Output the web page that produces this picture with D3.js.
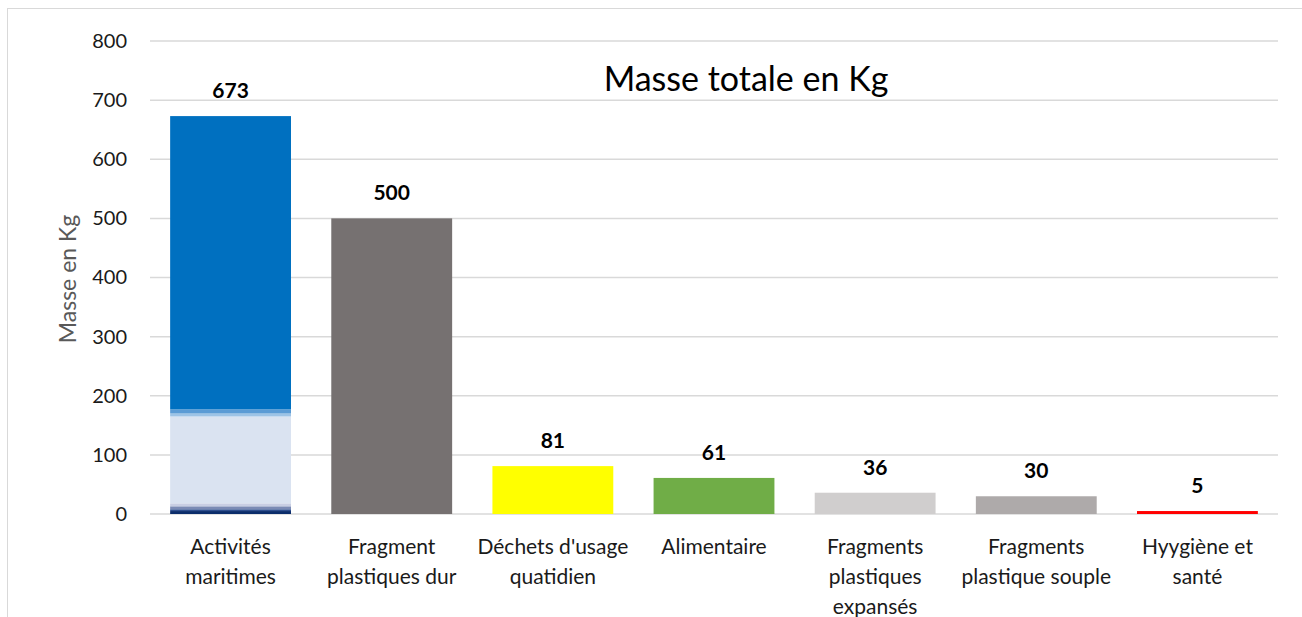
<!DOCTYPE html>
<html><head><meta charset="utf-8">
<script src="https://cdn.jsdelivr.net/npm/d3@7"></script>
<style>body{margin:0;background:#fff;}svg{display:block;font-family:Lato,"Liberation Sans",sans-serif;}</style>
</head><body>
<svg id="c" width="1302" height="617"></svg>
<script>
const categories = ["Activités maritimes","Fragment plastiques dur","Déchets d'usage quatidien","Alimentaire","Fragments plastiques expansés","Fragments plastique souple","Hyygiène et santé"];
const categoryLines = [["Activités","maritimes"],["Fragment","plastiques dur"],["Déchets d'usage","quatidien"],["Alimentaire"],["Fragments","plastiques","expansés"],["Fragments","plastique souple"],["Hyygiène et","santé"]];
const totals = [673,500,81,61,36,30,5];
const barColors = ["#0070c0","#767171","#ffff00","#70ad47","#d0cece","#aeaaaa","#ff0000"];
// sub-segments of the first bar, bottom to top
const maritimeParts = [5,3,5,5,147,5,7,496];
const maritimeColors = ["#0c2d6b","#2f4f8f","#7b8bb5","#c8cee3","#dae3f1","#9dc3e6","#5b9bd5","#0070c0"];
const yTicks = [0,100,200,300,400,500,600,700,800];

const svg = d3.select("#c");
svg.append("rect").attr("x",7.5).attr("y",8.5).attr("width",1310).attr("height",630)
  .attr("fill","none").attr("stroke","#d9d9d9").attr("stroke-width",1);

const x = d3.scaleBand().domain(categories).range([150,1278]).paddingInner(0.25).paddingOuter(0.125);
const y = d3.scaleLinear().domain([0,800]).range([514,41]);

svg.append("g").selectAll("line").data(yTicks).join("line")
  .attr("x1",150).attr("x2",1278).attr("y1",d=>y(d)).attr("y2",d=>y(d))
  .attr("stroke","#d9d9d9").attr("stroke-width",1.5);

const yAxis = svg.append("g").attr("transform","translate(127,0)")
  .call(d3.axisLeft(y).tickValues(yTicks).tickSize(0).tickPadding(0));
yAxis.select(".domain").remove();
yAxis.selectAll("text").attr("font-size",20).attr("fill","#1a1a1a").style("font-family","Lato, sans-serif");

svg.append("text").attr("transform","translate(76,279) rotate(-90)")
  .attr("text-anchor","middle").attr("font-size",23).attr("fill","#595959").text("Masse en Kg");

svg.append("text").attr("x",746).attr("y",91).attr("text-anchor","middle")
  .attr("font-size",34).attr("fill","#000").text("Masse totale en Kg");

svg.append("g").selectAll("rect").data(categories.slice(1)).join("rect")
  .attr("x",d=>x(d)).attr("width",x.bandwidth())
  .attr("y",(d,i)=>y(totals[i+1])).attr("height",(d,i)=>y(0)-y(totals[i+1]))
  .attr("fill",(d,i)=>barColors[i+1]);

let cum = 0;
const stackData = maritimeParts.map((v,i)=>{const o={y0:cum,y1:cum+v,c:maritimeColors[i]};cum+=v;return o;});
svg.append("g").selectAll("rect").data(stackData).join("rect")
  .attr("x",x(categories[0])).attr("width",x.bandwidth())
  .attr("y",d=>y(d.y1)).attr("height",d=>y(d.y0)-y(d.y1)).attr("fill",d=>d.c);

svg.append("g").selectAll("text").data(categories).join("text")
  .attr("x",d=>x(d)+x.bandwidth()/2).attr("y",(d,i)=>y(totals[i])-18)
  .attr("text-anchor","middle").attr("font-size",21).attr("font-weight","bold").attr("fill","#000")
  .text((d,i)=>totals[i]);

const cl = svg.append("g").selectAll("text").data(categories).join("text")
  .attr("x",d=>x(d)+x.bandwidth()/2).attr("y",554)
  .attr("text-anchor","middle").attr("font-size",21).attr("fill","#1a1a1a");
cl.each(function(d,i){
  const t=d3.select(this);
  categoryLines[i].forEach((s,j)=>t.append("tspan").attr("x",x(d)+x.bandwidth()/2).attr("dy",j?30:0).text(s));
});
</script>
</body></html>
